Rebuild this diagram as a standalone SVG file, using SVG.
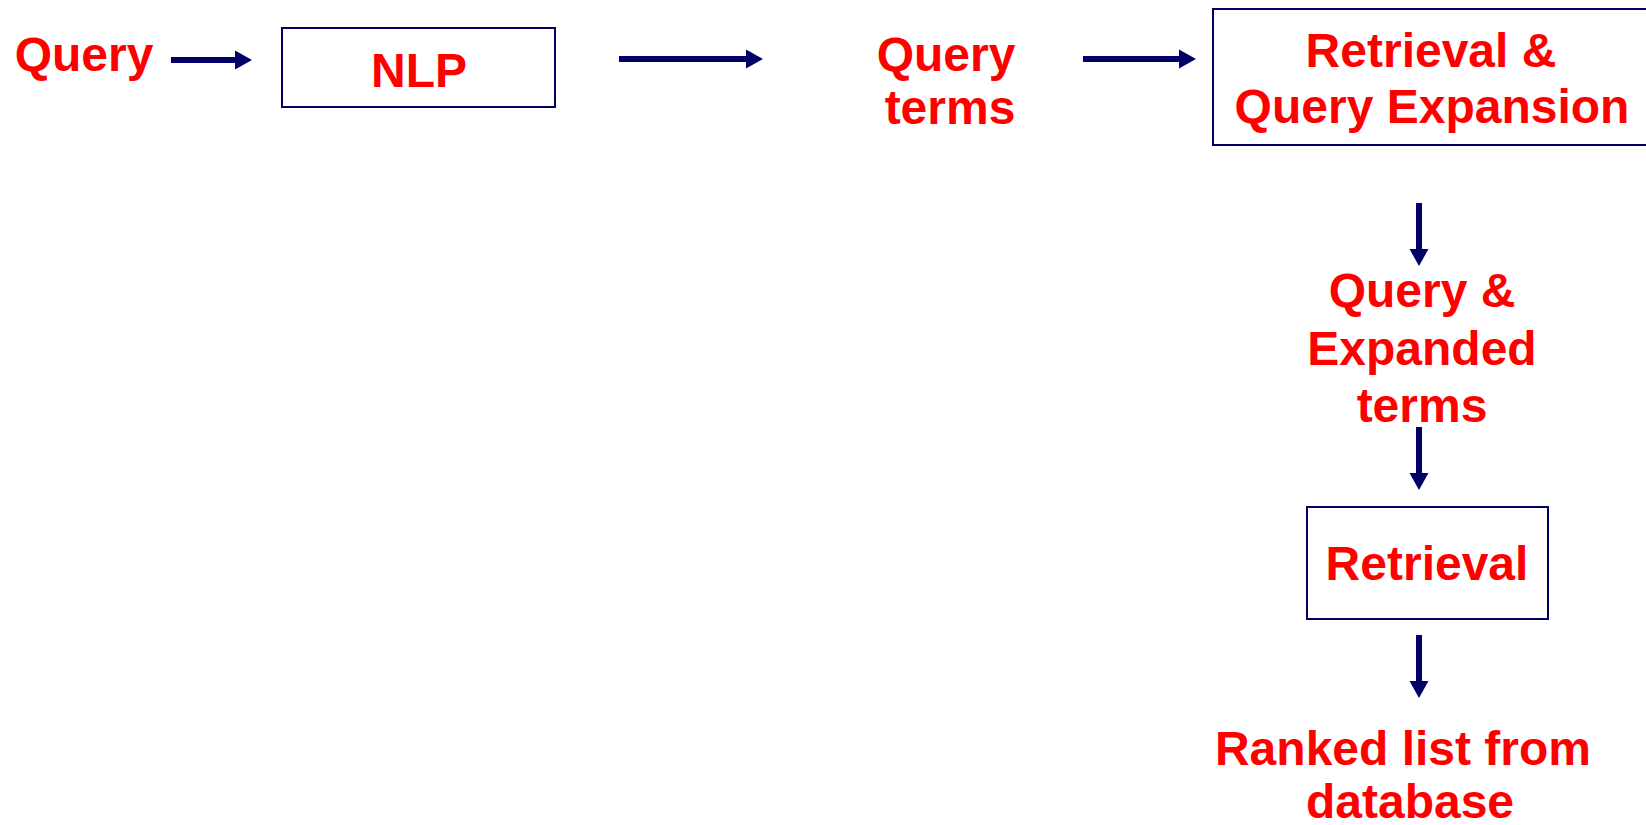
<svg xmlns="http://www.w3.org/2000/svg" width="1646" height="825" viewBox="0 0 1646 825">
  <style>
    .lbl { font-family: "Liberation Sans", Arial, sans-serif; font-weight: bold; font-size: 48px; fill: #FF0000; text-anchor: middle; }
    .box { fill: #FFFFFF; stroke: #000066; stroke-width: 2; }
    .flow { stroke: #000066; stroke-width: 6; fill: none; marker-end: url(#head); }
  </style>
  <defs>
    <!-- arrowhead: tip sits 12px past the end of the shaft -->
    <marker id="head" markerUnits="userSpaceOnUse" markerWidth="18" markerHeight="20" refX="5" refY="10" orient="auto">
      <path d="M0,0.5 L17,10 L0,19.5 Z" fill="#000066"/>
    </marker>
  </defs>
  <rect width="1646" height="825" fill="#FFFFFF"/>

  <!-- connectors (end points are 12px short of the arrow tips) -->
  <g id="connectors">
    <line class="flow" x1="171" y1="60" x2="240" y2="60"/>
    <line class="flow" x1="619" y1="59" x2="751" y2="59"/>
    <line class="flow" x1="1083" y1="59" x2="1184" y2="59"/>
    <line class="flow" x1="1419" y1="203" x2="1419" y2="254"/>
    <line class="flow" x1="1419" y1="427" x2="1419" y2="478"/>
    <line class="flow" x1="1419" y1="635" x2="1419" y2="686"/>
  </g>

  <g id="query">
    <text class="lbl" x="84" y="71">Query</text>
  </g>

  <g id="nlp">
    <rect class="box" x="282" y="28" width="273" height="79"/>
    <text class="lbl" x="419" y="87">NLP</text>
  </g>

  <g id="query-terms">
    <text class="lbl" x="946" y="71">Query</text>
    <text class="lbl" x="950" y="124">terms</text>
  </g>

  <g id="retrieval-expansion">
    <rect class="box" x="1213" y="9" width="445" height="136"/>
    <text class="lbl" x="1431" y="67">Retrieval &amp;</text>
    <text class="lbl" x="1432" y="123">Query Expansion</text>
  </g>

  <g id="expanded-terms">
    <text class="lbl" x="1422" y="307">Query &amp;</text>
    <text class="lbl" x="1422" y="365">Expanded</text>
    <text class="lbl" x="1422" y="422">terms</text>
  </g>

  <g id="retrieval">
    <rect class="box" x="1307" y="507" width="241" height="112"/>
    <text class="lbl" x="1427" y="580">Retrieval</text>
  </g>

  <g id="ranked-list">
    <text class="lbl" x="1403" y="765">Ranked list from</text>
    <text class="lbl" x="1410" y="818">database</text>
  </g>
</svg>
